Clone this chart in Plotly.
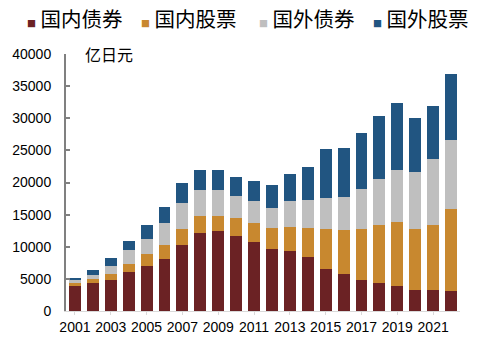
import plotly.graph_objects as go

years = list(range(2001, 2023))
dom_bond = [3900, 4300, 4750, 6100, 7050, 8100, 10300, 12100, 12400, 11650, 10750,
            9650, 9350, 8450, 6600, 5700, 4900, 4300, 3850, 3200, 3250, 3050]
dom_equity = [450, 650, 1050, 1250, 1750, 2150, 2450, 2750, 2450, 2750, 2900,
              3200, 3700, 4450, 6100, 6900, 7800, 9050, 9950, 9500, 10100, 12900]
for_bond = [400, 700, 1250, 2100, 2400, 3400, 4000, 4000, 4000, 3550, 3400,
            3200, 4000, 4300, 4900, 5200, 6300, 7200, 8100, 8900, 10250, 10600]
for_equity = [450, 800, 1200, 1450, 2150, 2600, 3200, 3050, 3050, 2900, 3200,
              3550, 4300, 5200, 7650, 7500, 8750, 9800, 10450, 8450, 8300, 10400]

series = [
    ("国内债券", dom_bond, "#6B2224"),
    ("国内股票", dom_equity, "#C8882F"),
    ("国外债券", for_bond, "#BFBFBF"),
    ("国外股票", for_equity, "#215581"),
]
x_ticks = list(range(2001, 2022, 2))
y_ticks = list(range(0, 40001, 5000))

FONT = "Liberation Sans, Arial, Noto Sans CJK SC, sans-serif"
CJK = "Noto Sans CJK SC, Liberation Sans, sans-serif"

fig = go.Figure()
for name, vals, col in series:
    fig.add_trace(go.Bar(x=years, y=vals, name=name, marker=dict(color=col, line=dict(width=0)),
                         showlegend=False))

fig.update_layout(
    barmode="stack", bargap=0.333,
    width=484, height=347,
    margin=dict(l=64, r=24, t=54, b=33),
    paper_bgcolor="white", plot_bgcolor="white",
    font=dict(family=FONT, size=14, color="#000000"),
    xaxis=dict(range=[2000.5, 2022.5], tickvals=x_ticks, ticktext=[str(v) for v in x_ticks],
               showgrid=False, zeroline=False, showline=True, linecolor="#D9D9D9", linewidth=1,
               ticks="outside", ticklen=3, tickcolor="#D9D9D9", tickfont=dict(size=14, family=FONT),
               fixedrange=True),
    yaxis=dict(range=[0, 40000], tickvals=y_ticks, ticktext=[str(v) for v in y_ticks],
               showgrid=False, zeroline=False, showline=True, linecolor="#808080", linewidth=2,
               ticks="inside", ticklen=4, tickcolor="#808080", tickwidth=2,
               tickfont=dict(size=14, family=FONT), ticklabelstandoff=10, fixedrange=True),
)

fig.add_annotation(text="亿日元", xref="paper", yref="paper", x=(81 - 64) / 396, y=1.0, xanchor="left",
                   yanchor="middle", showarrow=False, font=dict(size=16, family=CJK, color="#000"))

legend_x = [23, 137, 256, 371]
for (name, vals, col), lx in zip(series, legend_x):
    fig.add_annotation(
        text=f"<span style='color:{col};font-size:9px'>■</span> {name}",
        xref="paper", yref="paper", x=(lx - 64) / 396, y=1 + (54 - 18) / 260,
        xanchor="left", yanchor="middle", showarrow=False,
        font=dict(size=20.5, family=CJK, color="#000"))

fig.write_html("out.html")
